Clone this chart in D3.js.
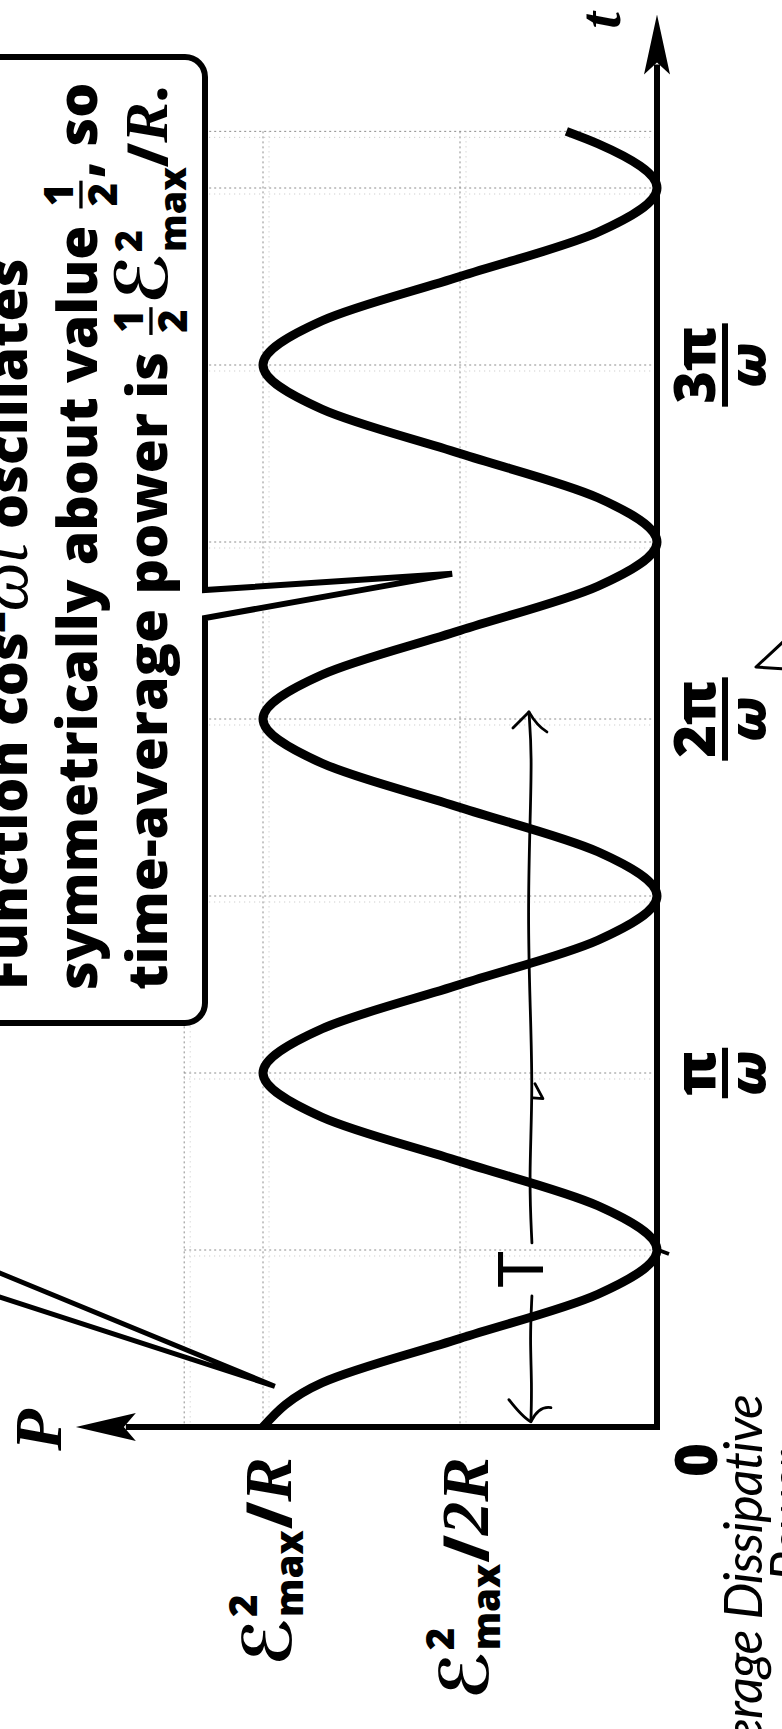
<!DOCTYPE html>
<html>
<head>
<meta charset="utf-8">
<script src="https://cdn.jsdelivr.net/npm/d3@7/dist/d3.min.js"></script>
<style>
html, body { margin:0; padding:0; background:#fff; }
svg { display:block; }
svg text { white-space: pre; }
</style>
</head>
<body>
<svg id="chart" width="782" height="1729" xmlns="http://www.w3.org/2000/svg"></svg>
<script>
// ---------------- data ----------------
// time in units of π/ω, power in units of ℰ²max/R
const tValues = [0, 0.125, 0.25, 0.375, 0.5, 0.625, 0.75, 0.875,
                 1, 1.125, 1.25, 1.375, 1.5, 1.625, 1.75, 1.875,
                 2, 2.125, 2.25, 2.375, 2.5, 2.625, 2.75, 2.875,
                 3, 3.125, 3.25, 3.375, 3.5, 3.625, 3.66];
const pValues = [1, 0.85, 0.5, 0.15, 0, 0.15, 0.5, 0.85,
                 1, 0.85, 0.5, 0.15, 0, 0.15, 0.5, 0.85,
                 1, 0.85, 0.5, 0.15, 0, 0.15, 0.5, 0.85,
                 1, 0.85, 0.5, 0.15, 0, 0.15, 0.23];
const tTickValues = [1, 2, 3];
const tTickNumerators = ["π", "2π", "3π"];
const tTickDenominator = "ω";
const originLabel = "0";
const pTickValues = [1, 0.5];
const pTickDenominators = ["R", "2R"];
const pGridValues = [1.2, 1, 0.5];
const tGridValues = [0.5, 1, 1.5, 2, 2.5, 3, 3.5, 3.66];
const axisLabelP = "P";
const axisLabelT = "t";
const handNotes = ["Average Dissipative", "Power"];
const periodLabel = "T";

// ---------------- fonts ----------------
const SANS = "'Open Sans', 'Noto Sans', 'DejaVu Sans', sans-serif";
const SERIF = "'Liberation Serif', 'DejaVu Serif', serif";
const SCRIPT = "'DejaVu Serif', 'DejaVu Sans', serif";
const HAND = "'Lato', 'Open Sans', sans-serif";

// ---------------- scales ----------------
const xP = d3.scaleLinear().domain([0, 1]).range([657, 263]);
const yT = d3.scaleLinear().domain([0, 1]).range([1427, 1073]);
const pAxisMax = 1.475, tAxisMax = 3.99;

const svg = d3.select("#chart");

// ---------------- helpers ----------------
function styleText(t, s, fs) {
  t.attr("font-family", s.family || SANS)
   .attr("font-weight", s.weight || 800)
   .attr("font-style", s.italic ? "italic" : "normal")
   .attr("font-size", fs * (s.size || 1))
   .attr("fill", "#000");
}
function len(t) { return t.node().getComputedTextLength(); }
function layoutRich(g, segs, fs) {
  let x = 0;
  for (const s of segs) {
    if (s.type === "frac") {
      const gap = fs * 0.05;
      const num = g.append("text").text(s.num); styleText(num, s, fs);
      const den = g.append("text").text(s.den); styleText(den, s, fs);
      const w = Math.max(len(num), len(den)) + fs * 0.08;
      const cx = x + gap + w / 2;
      num.attr("x", cx).attr("y", s.numY * fs).attr("text-anchor", "middle");
      den.attr("x", cx).attr("y", s.denY * fs).attr("text-anchor", "middle");
      g.append("line").attr("x1", x + gap).attr("x2", x + gap + w)
        .attr("y1", s.barY * fs).attr("y2", s.barY * fs)
        .attr("stroke", "#000").attr("stroke-width", s.barW * fs);
      x += w + 2 * gap;
    } else if (s.type === "supsub") {
      let w = 0;
      if (s.sup) { const t = g.append("text").attr("x", x).attr("y", s.supY * fs).text(s.sup); styleText(t, s, fs); w = Math.max(w, len(t)); }
      if (s.sub) { const t = g.append("text").attr("x", x).attr("y", s.subY * fs).text(s.sub); styleText(t, s, fs); w = Math.max(w, len(t)); }
      x += w + (s.pad || 0) * fs;
    } else {
      const t = g.append("text").attr("x", x).attr("y", (s.dy || 0) * fs).text(s.text);
      styleText(t, s, fs);
      x += len(t);
    }
  }
  return x;
}

// ---------------- grid ----------------
const grid = svg.append("g");
const gridTop = yT(d3.max(tGridValues)), gridBottom = yT(0);
const gridLeft = xP(d3.max(pGridValues)), gridRight = xP(0);
[[0, "#8c8c8c", "2,3"], [6, "#c4c4c4", "1,4"]].forEach(([off, col, dash]) => {
  grid.selectAll(null).data(pGridValues).join("line")
    .attr("x1", d => xP(d) + off).attr("x2", d => xP(d) + off)
    .attr("y1", gridTop).attr("y2", gridBottom)
    .attr("stroke", col).attr("stroke-width", 1).attr("stroke-dasharray", dash);
  grid.selectAll(null).data(tGridValues).join("line")
    .attr("y1", d => yT(d) + off).attr("y2", d => yT(d) + off)
    .attr("x1", gridLeft).attr("x2", gridRight)
    .attr("stroke", col).attr("stroke-width", 1).attr("stroke-dasharray", dash);
});

// ---------------- curve ----------------
const pts = tValues.map((t, i) => [t, pValues[i]]);
const line = d3.line().x(d => xP(d[1])).y(d => yT(d[0])).curve(d3.curveMonotoneY);
svg.append("path").attr("d", line(pts)).attr("fill", "none")
  .attr("stroke", "#000").attr("stroke-width", 9).attr("stroke-linecap", "butt");

// ---------------- axes ----------------
const x0 = xP(0), y0 = yT(0);
const tipP = xP(pAxisMax), tipT = yT(tAxisMax);
svg.append("path")
  .attr("d", `M${tipP + 50},${y0} L${x0},${y0} L${x0},${tipT + 50}`)
  .attr("fill", "none").attr("stroke", "#000").attr("stroke-width", 6)
  .attr("stroke-linejoin", "miter");
svg.append("path")
  .attr("d", `M${tipP},${y0} L${tipP + 60},${y0 - 14} L${tipP + 48},${y0} L${tipP + 60},${y0 + 14} Z`)
  .attr("fill", "#000");
svg.append("path")
  .attr("d", `M${x0},${tipT} L${x0 - 13},${tipT + 60} L${x0},${tipT + 48} L${x0 + 13},${tipT + 60} Z`)
  .attr("fill", "#000");

// axis titles
svg.append("g").attr("transform", `translate(0,${y0 + 3}) rotate(-90)`)
  .append("text").attr("x", 0).attr("y", 61).attr("text-anchor", "middle")
  .attr("font-family", SERIF).attr("font-weight", 700).attr("font-style", "italic")
  .attr("font-size", 68).text(axisLabelP);
svg.append("g").attr("transform", `translate(${x0},${tipT + 6}) rotate(-90)`)
  .append("text").attr("x", 0).attr("y", -37).attr("text-anchor", "middle")
  .attr("font-family", SERIF).attr("font-weight", 700).attr("font-style", "italic")
  .attr("font-size", 60).text(axisLabelT);

// origin label
svg.append("g").attr("transform", `translate(${x0},${y0 + 33}) rotate(-90)`)
  .append("text").attr("x", 0).attr("y", 60).attr("text-anchor", "middle")
  .attr("font-family", SANS).attr("font-weight", 800).attr("font-size", 58).text(originLabel);

// t tick labels (fractions)
tTickValues.forEach((v, i) => {
  const g = svg.append("g").attr("transform", `translate(${x0},${yT(v)}) rotate(-90)`);
  const num = g.append("text").attr("x", 0).attr("y", 58).attr("text-anchor", "middle")
    .attr("font-family", SANS).attr("font-weight", 800).attr("font-size", 56).text(tTickNumerators[i]);
  const w = len(num) + 6;
  g.append("line").attr("x1", -w / 2).attr("x2", w / 2).attr("y1", 68).attr("y2", 68)
    .attr("stroke", "#000").attr("stroke-width", 6);
  g.append("text").attr("x", 0).attr("y", 109).attr("text-anchor", "middle")
    .attr("font-family", SANS).attr("font-weight", 800).attr("font-style", "italic")
    .attr("font-size", 52).text(tTickDenominator);
});

// P tick labels  ℰ²max/R , ℰ²max/2R
const pLabelEnd = y0 + 30;
pTickValues.forEach((v, i) => {
  const g = svg.append("g").attr("transform", `translate(${xP(v)},${pLabelEnd}) rotate(-90)`);
  const inner = g.append("g");
  const segs = [
    { text: "ℰ", family: SCRIPT, italic: true, weight: 700, size: 1.08 },
    { type: "supsub", sup: "2", sub: "max", size: 0.62, supY: -0.55, subY: 0.2, pad: 0.02 },
    { text: "/", size: 1 },
    { text: pTickDenominators[i], family: SERIF, italic: true, weight: 700, size: 1.08 }
  ];
  const W = layoutRich(inner, segs, 62);
  inner.attr("transform", `translate(${-W},28)`);
});

// ---------------- second callout leader (box off to the left) ----------------
const tip2 = { p: 0.97, t: 0.115 };
svg.append("path")
  .attr("d", `M-10,1269 L${xP(tip2.p)},${yT(tip2.t)} L-10,1294`)
  .attr("fill", "#fff").attr("stroke", "#000").attr("stroke-width", 5)
  .attr("stroke-linejoin", "miter").attr("stroke-miterlimit", 4);

// ---------------- callout box ----------------
const tip1 = { p: 0.52, t: 2.41 };
const bx = 205, bTop = 57, bBot = 1023, br = 20, bLeft = -30;
const bp = d3.path();
bp.moveTo(bLeft, bTop);
bp.lineTo(bx - br, bTop);
bp.arcTo(bx, bTop, bx, bTop + br, br);
bp.lineTo(bx, 590);
bp.lineTo(xP(tip1.p), yT(tip1.t));
bp.lineTo(bx, 618);
bp.lineTo(bx, bBot - br);
bp.arcTo(bx, bBot, bx - br, bBot, br);
bp.lineTo(bLeft, bBot);
bp.closePath();
svg.append("path").attr("d", bp.toString()).attr("fill", "#fff")
  .attr("stroke", "#000").attr("stroke-width", 6)
  .attr("stroke-linejoin", "miter").attr("stroke-miterlimit", 4);

// callout text
const frac = { type: "frac", num: "1", den: "2", size: 0.72, numY: -0.44, denY: 0.36, barY: -0.29, barW: 0.06 };
const calloutLines = [
  [ { text: "Function cos" },
    { type: "supsub", sup: "2", size: 0.65, supY: -0.4 },
    { text: "ωt", family: SERIF, italic: true, weight: 400, size: 1.25 },
    { text: " oscillates" } ],
  [ { text: "symmetrically about value " }, frac, { text: ", so" } ],
  [ { text: "time-average power is " }, frac,
    { text: "ℰ", family: SCRIPT, italic: true, weight: 700, size: 1.3 },
    { type: "supsub", sup: "2", sub: "max", size: 0.68, supY: -0.45, subY: 0.34 },
    { text: "/" },
    { text: "R", family: SERIF, italic: true, weight: 700, size: 1.1 },
    { text: "." } ]
];
const calloutStart = 990;
const calloutBaselines = [27, 97, 167];
const calloutTargets = [745, 880, 915];
const cg = svg.append("g").attr("transform", `translate(0,${calloutStart}) rotate(-90)`);
function renderCallout(fs) {
  cg.selectAll("*").remove();
  return calloutLines.map((segs, i) => {
    const lg = cg.append("g").attr("transform", `translate(0,${calloutBaselines[i]})`);
    return layoutRich(lg, segs, fs);
  });
}
const w0 = renderCallout(50);
const ratio = d3.mean(w0.map((w, i) => calloutTargets[i] / w));
renderCallout(50 * ratio);

// ---------------- handwritten annotations ----------------
const hand = svg.append("g").attr("stroke", "#000").attr("fill", "none")
  .attr("stroke-width", 2.8).attr("stroke-linecap", "round").attr("stroke-linejoin", "round");
const pa = { p: 0.32, t0: 0.015, tGap0: 0.37, tGap1: 0.52, t1: 2.02 };
const ax = xP(pa.p);
const wob = d3.line().curve(d3.curveBasis);
hand.append("path").attr("d", wob([
  [ax, yT(pa.t0)], [ax + 1, yT(0.12)], [ax - 1, yT(0.25)], [ax + 1, yT(pa.tGap0)]
]));
hand.append("path").attr("d", wob([
  [ax + 1, yT(pa.tGap1)], [ax - 2, yT(0.7)], [ax + 2, yT(0.95)], [ax - 1, yT(1.2)],
  [ax - 3, yT(1.45)], [ax - 1, yT(1.7)], [ax + 1, yT(1.9)], [ax - 2, yT(pa.t1)]
]));
// arrowheads
hand.append("path").attr("d",
  `M${ax - 22},${yT(pa.t0) - 22} Q${ax - 8},${yT(pa.t0) - 4} ${ax},${yT(pa.t0)} Q${ax + 8},${yT(pa.t0) - 16} ${ax + 20},${yT(pa.t0) - 14}`);
hand.append("path").attr("d",
  `M${ax - 18},${yT(pa.t1) + 16} Q${ax - 6},${yT(pa.t1) + 4} ${ax - 2},${yT(pa.t1)} Q${ax + 6},${yT(pa.t1) + 14} ${ax + 16},${yT(pa.t1) + 20}`);
// small barb on the arrow
hand.append("path").attr("d", `M${ax + 2},${yT(0.93)} L${ax + 12},${yT(0.95) + 8} L${ax + 4},${yT(0.97)}`);
// "T"
svg.append("g").attr("transform", `translate(${ax + 12},${yT(0.445)}) rotate(-90)`)
  .append("text").attr("text-anchor", "middle").attr("font-family", HAND)
  .attr("font-weight", 400).attr("font-size", 62).text(periodLabel);
// mark near 2π/ω
hand.append("path").attr("d", `M784,${yT(2) - 78} L756,${yT(2) - 52} L784,${yT(2) - 50}`).attr("stroke-width", 3);
// pen mark near first zero
svg.append("line").attr("x1", x0 - 4).attr("x2", x0 + 12)
  .attr("y1", yT(0.5) - 2).attr("y2", yT(0.5) + 4).attr("stroke", "#000").attr("stroke-width", 4);
// "Average Dissipative Power"
svg.append("g").attr("transform", "translate(762,1395) rotate(-90)")
  .append("text").attr("text-anchor", "end").attr("font-family", HAND)
  .attr("font-weight", 400).attr("font-style", "italic").attr("font-size", 52)
  .attr("letter-spacing", -1).text(handNotes[0]);
svg.append("g").attr("transform", "translate(808,1452) rotate(-90)")
  .append("text").attr("text-anchor", "end").attr("font-family", HAND)
  .attr("font-weight", 400).attr("font-style", "italic").attr("font-size", 52)
  .attr("letter-spacing", -1).text(handNotes[1]);
</script>
</body>
</html>
